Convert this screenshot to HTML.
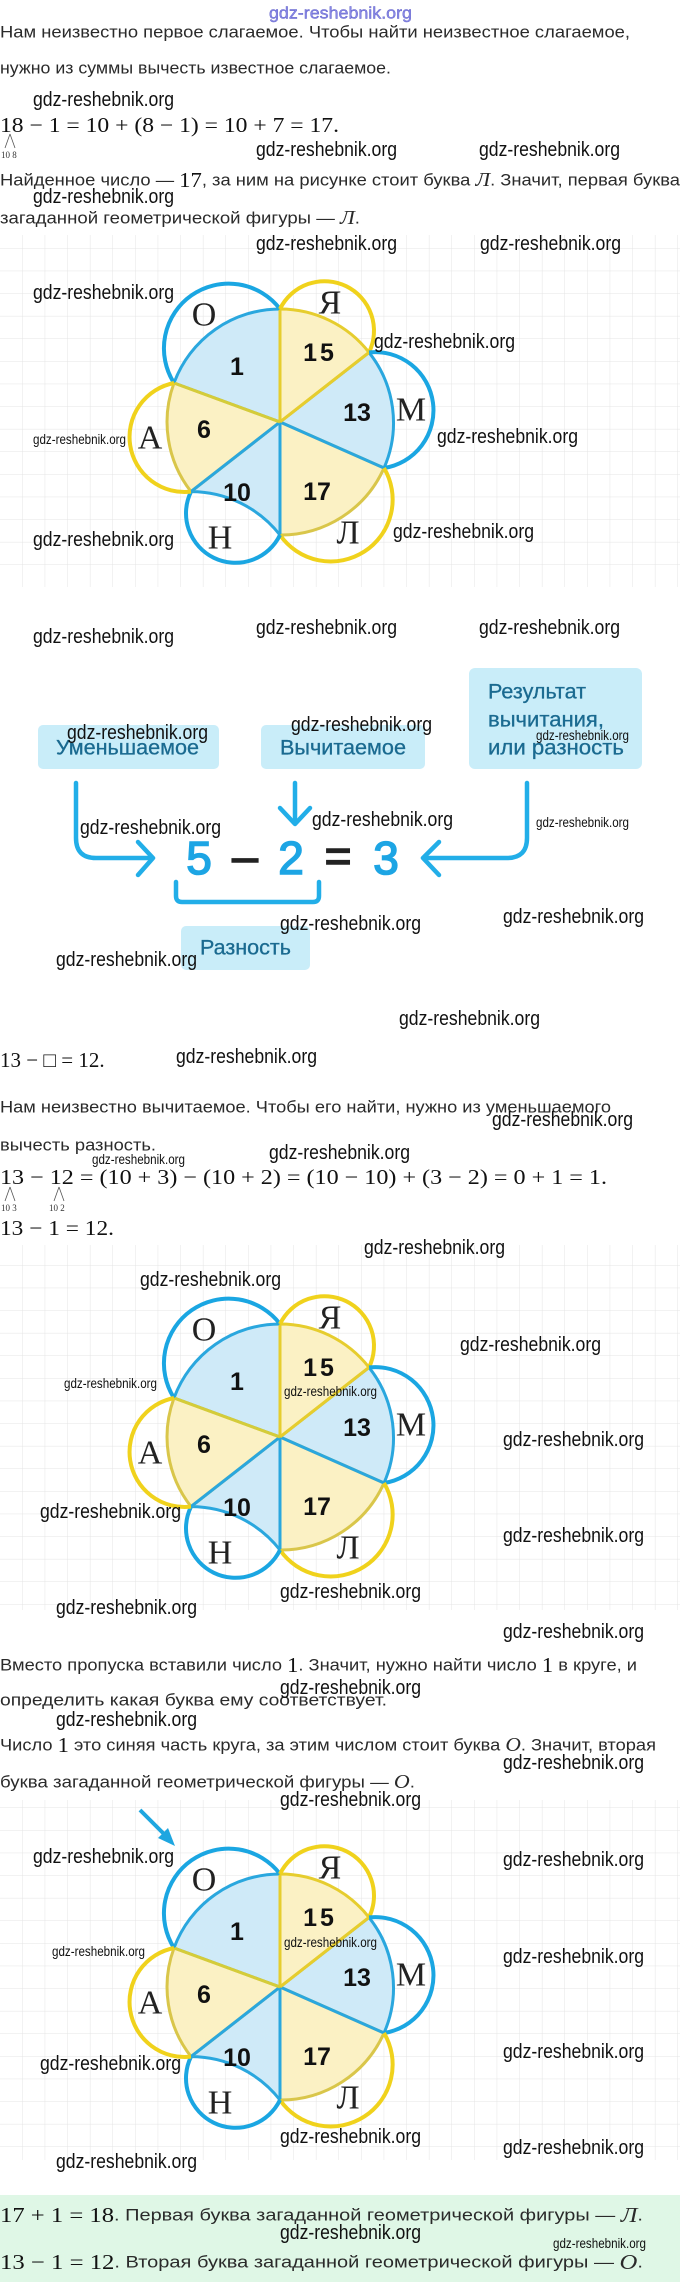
<!DOCTYPE html>
<html><head><meta charset="utf-8"><style>
html,body{margin:0;padding:0;background:#fff;}
svg{display:block;}
.w{font-family:"Liberation Sans Narrow","Liberation Sans",sans-serif;font-size:20px;fill:#111;}
.ws{font-family:"Liberation Sans Narrow","Liberation Sans",sans-serif;font-size:14px;fill:#111;}
.t{font-family:"Liberation Sans",sans-serif;font-size:17px;fill:#2a2a2a;}
.m{font-family:"Liberation Serif",serif;font-size:21px;fill:#111;}
.mi{font-family:"Liberation Serif",serif;font-style:italic;}
.L{font-family:"Liberation Serif",serif;font-size:34px;fill:#222;}
.N{font-family:"Liberation Sans",sans-serif;font-size:25px;font-weight:bold;fill:#111;}
.bt{font-family:"Liberation Sans",sans-serif;font-size:21px;fill:#1a6a90;stroke:#1a6a90;stroke-width:0.3;}
.tiny{font-family:"Liberation Serif",serif;font-size:9px;fill:#333;}
</style></head><body>
<svg width="680" height="2282" viewBox="0 0 680 2282" xmlns="http://www.w3.org/2000/svg">
<defs>
<pattern id="grid" width="22.6" height="22.6" patternUnits="userSpaceOnUse">
<path d="M22.6 0V22.6H0" fill="none" stroke="#e4e4e4" stroke-width="1"/>
</pattern>
<g id="flower">
<path d="M0,0 L-106,-39 A113,113 0 0 1 0,-113 Z" fill="#cfeaf8" stroke="#2aa7de" stroke-width="3"/>
<path d="M0,0 L104,46 A113,113 0 0 0 89,-69.6 Z" fill="#cfeaf8" stroke="#2aa7de" stroke-width="3"/>
<path d="M0,0 L0,113 A113,113 0 0 0 -89,69.6 Z" fill="#cfeaf8" stroke="#2aa7de" stroke-width="3"/>
<path d="M0,0 L0,-113 A113,113 0 0 1 89,-69.6 Z" fill="#fbf1c4" stroke="#e6cd2e" stroke-width="3"/>
<path d="M0,0 L104,46 A113,113 0 0 1 0,113 Z" fill="#fbf1c4" stroke="#d9c64a" stroke-width="3"/>
<path d="M0,0 L-89,69.6 A113,113 0 0 1 -106,-39 Z" fill="#fbf1c4" stroke="#d9c64a" stroke-width="3"/>
<line x1="0" y1="0" x2="104" y2="46" stroke="#2aa7de" stroke-width="3"/>
<line x1="0" y1="0" x2="0" y2="113" stroke="#2aa7de" stroke-width="3"/>
<line x1="0" y1="0" x2="-89" y2="69.6" stroke="#2aa7de" stroke-width="3"/>
<line x1="0" y1="0" x2="0" y2="-113" stroke="#e6cd2e" stroke-width="3"/>
<line x1="0" y1="0" x2="89" y2="-69.6" stroke="#e6cd2e" stroke-width="3"/>
<line x1="0" y1="0" x2="-106" y2="-39" stroke="#d4cc3a" stroke-width="3"/>
<g fill="none" stroke-width="4">
<path d="M-106,-39 A64.7,64.7 0 0 1 0,-113" stroke="#1aa6e2"/>
<path d="M0,-113 A49.4,49.4 0 0 1 89,-69.6" stroke="#f0d21c"/>
<path d="M89,-69.6 A58.3,58.3 0 0 1 104,46" stroke="#1aa6e2"/>
<path d="M104,46 A61.9,61.9 0 0 1 0,113" stroke="#f0d21c"/>
<path d="M0,113 A49.4,49.4 0 0 1 -89,69.6" stroke="#1aa6e2"/>
<path d="M-89,69.6 A55,55 0 0 1 -106,-39" stroke="#f0d21c"/>
</g>
<g dominant-baseline="central" text-anchor="middle">
<text class="L" x="-76" y="-107">О</text>
<text class="L" x="50" y="-119">Я</text>
<text class="L" x="131" y="-12">М</text>
<text class="L" x="68" y="111">Л</text>
<text class="L" x="-60" y="116">Н</text>
<text class="L" x="-130" y="16">А</text>
<text class="N" x="-43" y="-55">1</text>
<text class="N" x="40" y="-69" letter-spacing="3">15</text>
<text class="N" x="77" y="-9">13</text>
<text class="N" x="-76" y="8">6</text>
<text class="N" x="-43" y="71">10</text>
<text class="N" x="37" y="70">17</text>
</g>
</g>
</defs>

<rect x="0" y="235" width="680" height="352" fill="url(#grid)"/>
<rect x="0" y="1245" width="680" height="365" fill="url(#grid)"/>
<rect x="0" y="1800" width="680" height="360" fill="url(#grid)"/>

<rect x="0" y="2195" width="680" height="87" fill="#dff7e6"/>

<g dominant-baseline="central">
<text x="269" y="13" font-family="Liberation Sans Narrow, Liberation Sans, sans-serif" font-size="17" fill="#8a8ae6" stroke="#5d5dc8" stroke-width="0.4" textLength="143" lengthAdjust="spacingAndGlyphs">gdz-reshebnik.org</text>

<text class="t" x="0" y="32" textLength="630" lengthAdjust="spacingAndGlyphs">Нам неизвестно первое слагаемое. Чтобы найти неизвестное слагаемое,</text>
<text class="t" x="0" y="68" textLength="391" lengthAdjust="spacingAndGlyphs">нужно из суммы вычесть известное слагаемое.</text>
<text class="m" x="0" y="125" textLength="339" lengthAdjust="spacingAndGlyphs">18 − 1 = 10 + (8 − 1) = 10 + 7 = 17.</text>
<path d="M10,134 L5,148 M10,134 L15,148" stroke="#555" stroke-width="0.8" fill="none"/>
<text class="tiny" x="1" y="155">10 8</text>
<text class="t" x="0" y="180" textLength="680" lengthAdjust="spacingAndGlyphs">Найденное число — <tspan class="m" font-size="20">17</tspan>, за ним на рисунке стоит буква <tspan class="mi" font-size="20">Л</tspan>. Значит, первая буква</text>
<text class="t" x="0" y="218" textLength="360" lengthAdjust="spacingAndGlyphs">загаданной геометрической фигуры — <tspan class="mi" font-size="20">Л</tspan>.</text>

<text class="t" x="0" y="1060"><tspan class="m" font-size="21">13 − □ = 12.</tspan></text>
<text class="t" x="0" y="1107" textLength="611" lengthAdjust="spacingAndGlyphs">Нам неизвестно вычитаемое. Чтобы его найти, нужно из уменьшаемого</text>
<text class="t" x="0" y="1145" textLength="156" lengthAdjust="spacingAndGlyphs">вычесть разность.</text>
<text class="m" x="0" y="1177" textLength="607" lengthAdjust="spacingAndGlyphs">13 − 12 = (10 + 3) − (10 + 2) = (10 − 10) + (3 − 2) = 0 + 1 = 1.</text>
<path d="M10,1187 L5,1201 M10,1187 L15,1201 M59,1187 L54,1201 M59,1187 L64,1201" stroke="#555" stroke-width="0.8" fill="none"/>
<text class="tiny" x="1" y="1208">10 3</text>
<text class="tiny" x="49" y="1208">10 2</text>
<text class="m" x="0" y="1228" textLength="114" lengthAdjust="spacingAndGlyphs">13 − 1 = 12.</text>

<text class="t" x="0" y="1665" textLength="637" lengthAdjust="spacingAndGlyphs">Вместо пропуска вставили число <tspan class="m" font-size="20">1</tspan>. Значит, нужно найти число <tspan class="m" font-size="20">1</tspan> в круге, и</text>
<text class="t" x="0" y="1700" textLength="387" lengthAdjust="spacingAndGlyphs">определить какая буква ему соответствует.</text>
<text class="t" x="0" y="1745" textLength="656" lengthAdjust="spacingAndGlyphs">Число <tspan class="m" font-size="20">1</tspan> это синяя часть круга, за этим числом стоит буква <tspan class="mi" font-size="20">O</tspan>. Значит, вторая</text>
<text class="t" x="0" y="1782" textLength="415" lengthAdjust="spacingAndGlyphs">буква загаданной геометрической фигуры — <tspan class="mi" font-size="20">O</tspan>.</text>

<text class="t" x="0" y="2215" textLength="643" lengthAdjust="spacingAndGlyphs"><tspan class="m" font-size="21">17 + 1 = 18</tspan>. Первая буква загаданной геометрической фигуры — <tspan class="mi" font-size="21">Л</tspan>.</text>
<text class="t" x="0" y="2262" textLength="643" lengthAdjust="spacingAndGlyphs"><tspan class="m" font-size="21">13 − 1 = 12</tspan>. Вторая буква загаданной геометрической фигуры — <tspan class="mi" font-size="21">O</tspan>.</text>
</g>

<use href="#flower" transform="translate(280,422)"/>
<use href="#flower" transform="translate(280,1437)"/>
<use href="#flower" transform="translate(280,1987)"/>

<line x1="140" y1="1810" x2="166" y2="1836" stroke="#1ea6e0" stroke-width="4"/>
<path d="M175,1846 L158,1838 L168,1828 Z" fill="#1ea6e0"/>

<rect x="38" y="725" width="181" height="44" rx="5" fill="#c9edf9"/>
<rect x="261" y="725" width="164" height="44" rx="5" fill="#c9edf9"/>
<rect x="469" y="668" width="173" height="101" rx="6" fill="#c9edf9"/>
<rect x="181" y="926" width="129" height="44" rx="5" fill="#c9edf9"/>
<g dominant-baseline="central">
<text class="bt" x="56" y="748" textLength="143" lengthAdjust="spacingAndGlyphs">Уменьшаемое</text>
<text class="bt" x="280" y="748" textLength="126" lengthAdjust="spacingAndGlyphs">Вычитаемое</text>
<text class="bt" x="488" y="692" textLength="98" lengthAdjust="spacingAndGlyphs">Результат</text>
<text class="bt" x="488" y="720" textLength="116" lengthAdjust="spacingAndGlyphs">вычитания,</text>
<text class="bt" x="488" y="748" textLength="136" lengthAdjust="spacingAndGlyphs">или разность</text>
<text class="bt" x="200" y="948" textLength="91" lengthAdjust="spacingAndGlyphs">Разность</text>
<g font-family="Liberation Sans, sans-serif" font-size="46" text-anchor="middle" stroke-width="1.6">
<text x="199" y="858" fill="#1da5e4" stroke="#1da5e4">5</text>
<text x="245" y="856" fill="#222" stroke="#222">–</text>
<text x="291" y="858" fill="#1da5e4" stroke="#1da5e4">2</text>
<text x="338" y="856" fill="#222" stroke="#222">=</text>
<text x="386" y="858" fill="#1da5e4" stroke="#1da5e4">3</text>
</g>
</g>
<g fill="none" stroke="#22aee8" stroke-width="4.5" stroke-linecap="round" stroke-linejoin="round">
<path d="M76,783 V838 Q76,858 96,858 H151"/>
<path d="M138,842 L153,858 L138,875"/>
<path d="M295,783 V823"/>
<path d="M280,808 L295,824 L310,808"/>
<path d="M527,783 V838 Q527,858 507,858 H425"/>
<path d="M439,842 L423,858 L439,875"/>
<path d="M176,882 V896 Q176,902 182,902 H313 Q319,902 319,896 V882"/>
</g>

<g dominant-baseline="central">
<text class="w" x="33" y="100" textLength="141" lengthAdjust="spacingAndGlyphs">gdz-reshebnik.org</text>
<text class="w" x="256" y="150" textLength="141" lengthAdjust="spacingAndGlyphs">gdz-reshebnik.org</text>
<text class="w" x="479" y="150" textLength="141" lengthAdjust="spacingAndGlyphs">gdz-reshebnik.org</text>
<text class="w" x="33" y="197" textLength="141" lengthAdjust="spacingAndGlyphs">gdz-reshebnik.org</text>
<text class="w" x="256" y="244" textLength="141" lengthAdjust="spacingAndGlyphs">gdz-reshebnik.org</text>
<text class="w" x="480" y="244" textLength="141" lengthAdjust="spacingAndGlyphs">gdz-reshebnik.org</text>
<text class="w" x="33" y="293" textLength="141" lengthAdjust="spacingAndGlyphs">gdz-reshebnik.org</text>
<text class="w" x="374" y="342" textLength="141" lengthAdjust="spacingAndGlyphs">gdz-reshebnik.org</text>
<text class="ws" x="33" y="439" textLength="93" lengthAdjust="spacingAndGlyphs">gdz-reshebnik.org</text>
<text class="w" x="437" y="437" textLength="141" lengthAdjust="spacingAndGlyphs">gdz-reshebnik.org</text>
<text class="w" x="33" y="540" textLength="141" lengthAdjust="spacingAndGlyphs">gdz-reshebnik.org</text>
<text class="w" x="393" y="532" textLength="141" lengthAdjust="spacingAndGlyphs">gdz-reshebnik.org</text>
<text class="w" x="33" y="637" textLength="141" lengthAdjust="spacingAndGlyphs">gdz-reshebnik.org</text>
<text class="w" x="256" y="628" textLength="141" lengthAdjust="spacingAndGlyphs">gdz-reshebnik.org</text>
<text class="w" x="479" y="628" textLength="141" lengthAdjust="spacingAndGlyphs">gdz-reshebnik.org</text>
<text class="w" x="67" y="733" textLength="141" lengthAdjust="spacingAndGlyphs">gdz-reshebnik.org</text>
<text class="w" x="291" y="725" textLength="141" lengthAdjust="spacingAndGlyphs">gdz-reshebnik.org</text>
<text class="ws" x="536" y="735" textLength="93" lengthAdjust="spacingAndGlyphs">gdz-reshebnik.org</text>
<text class="w" x="80" y="828" textLength="141" lengthAdjust="spacingAndGlyphs">gdz-reshebnik.org</text>
<text class="w" x="312" y="820" textLength="141" lengthAdjust="spacingAndGlyphs">gdz-reshebnik.org</text>
<text class="ws" x="536" y="822" textLength="93" lengthAdjust="spacingAndGlyphs">gdz-reshebnik.org</text>
<text class="w" x="503" y="917" textLength="141" lengthAdjust="spacingAndGlyphs">gdz-reshebnik.org</text>
<text class="w" x="280" y="924" textLength="141" lengthAdjust="spacingAndGlyphs">gdz-reshebnik.org</text>
<text class="w" x="56" y="960" textLength="141" lengthAdjust="spacingAndGlyphs">gdz-reshebnik.org</text>
<text class="w" x="399" y="1019" textLength="141" lengthAdjust="spacingAndGlyphs">gdz-reshebnik.org</text>
<text class="w" x="176" y="1057" textLength="141" lengthAdjust="spacingAndGlyphs">gdz-reshebnik.org</text>
<text class="w" x="492" y="1120" textLength="141" lengthAdjust="spacingAndGlyphs">gdz-reshebnik.org</text>
<text class="ws" x="92" y="1159" textLength="93" lengthAdjust="spacingAndGlyphs">gdz-reshebnik.org</text>
<text class="w" x="269" y="1153" textLength="141" lengthAdjust="spacingAndGlyphs">gdz-reshebnik.org</text>
<text class="w" x="364" y="1248" textLength="141" lengthAdjust="spacingAndGlyphs">gdz-reshebnik.org</text>
<text class="w" x="140" y="1280" textLength="141" lengthAdjust="spacingAndGlyphs">gdz-reshebnik.org</text>
<text class="w" x="460" y="1345" textLength="141" lengthAdjust="spacingAndGlyphs">gdz-reshebnik.org</text>
<text class="ws" x="64" y="1383" textLength="93" lengthAdjust="spacingAndGlyphs">gdz-reshebnik.org</text>
<text class="ws" x="284" y="1391" textLength="93" lengthAdjust="spacingAndGlyphs">gdz-reshebnik.org</text>
<text class="w" x="503" y="1440" textLength="141" lengthAdjust="spacingAndGlyphs">gdz-reshebnik.org</text>
<text class="w" x="40" y="1512" textLength="141" lengthAdjust="spacingAndGlyphs">gdz-reshebnik.org</text>
<text class="w" x="503" y="1536" textLength="141" lengthAdjust="spacingAndGlyphs">gdz-reshebnik.org</text>
<text class="w" x="280" y="1592" textLength="141" lengthAdjust="spacingAndGlyphs">gdz-reshebnik.org</text>
<text class="w" x="56" y="1608" textLength="141" lengthAdjust="spacingAndGlyphs">gdz-reshebnik.org</text>
<text class="w" x="503" y="1632" textLength="141" lengthAdjust="spacingAndGlyphs">gdz-reshebnik.org</text>
<text class="w" x="280" y="1688" textLength="141" lengthAdjust="spacingAndGlyphs">gdz-reshebnik.org</text>
<text class="w" x="56" y="1720" textLength="141" lengthAdjust="spacingAndGlyphs">gdz-reshebnik.org</text>
<text class="w" x="503" y="1763" textLength="141" lengthAdjust="spacingAndGlyphs">gdz-reshebnik.org</text>
<text class="w" x="280" y="1800" textLength="141" lengthAdjust="spacingAndGlyphs">gdz-reshebnik.org</text>
<text class="w" x="33" y="1857" textLength="141" lengthAdjust="spacingAndGlyphs">gdz-reshebnik.org</text>
<text class="w" x="503" y="1860" textLength="141" lengthAdjust="spacingAndGlyphs">gdz-reshebnik.org</text>
<text class="ws" x="52" y="1951" textLength="93" lengthAdjust="spacingAndGlyphs">gdz-reshebnik.org</text>
<text class="ws" x="284" y="1942" textLength="93" lengthAdjust="spacingAndGlyphs">gdz-reshebnik.org</text>
<text class="w" x="503" y="1957" textLength="141" lengthAdjust="spacingAndGlyphs">gdz-reshebnik.org</text>
<text class="w" x="40" y="2064" textLength="141" lengthAdjust="spacingAndGlyphs">gdz-reshebnik.org</text>
<text class="w" x="503" y="2052" textLength="141" lengthAdjust="spacingAndGlyphs">gdz-reshebnik.org</text>
<text class="w" x="280" y="2137" textLength="141" lengthAdjust="spacingAndGlyphs">gdz-reshebnik.org</text>
<text class="w" x="503" y="2148" textLength="141" lengthAdjust="spacingAndGlyphs">gdz-reshebnik.org</text>
<text class="w" x="56" y="2162" textLength="141" lengthAdjust="spacingAndGlyphs">gdz-reshebnik.org</text>
<text class="w" x="280" y="2233" textLength="141" lengthAdjust="spacingAndGlyphs">gdz-reshebnik.org</text>
<text class="ws" x="553" y="2243" textLength="93" lengthAdjust="spacingAndGlyphs">gdz-reshebnik.org</text>
</g>
</svg>
</body></html>
